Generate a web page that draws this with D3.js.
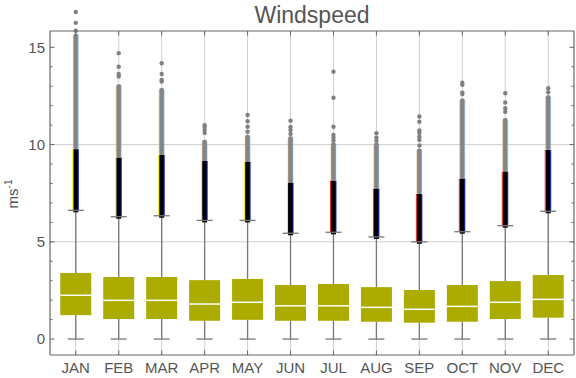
<!DOCTYPE html>
<html><head><meta charset="utf-8">
<script src="https://cdn.jsdelivr.net/npm/d3@7"></script>
<style>html,body{margin:0;padding:0;background:#fff;}svg{display:block;font-family:"Liberation Sans",Arial,Helvetica,sans-serif;}</style>
</head><body>
<svg id="chart" width="576" height="378"></svg>
<script>
const months = ["JAN","FEB","MAR","APR","MAY","JUN","JUL","AUG","SEP","OCT","NOV","DEC"];
const whiskerLow = [0,0,0,0,0,0,0,0,0,0,0,0];
const q1 = [1.23,1.03,1.03,0.94,0.99,0.94,0.94,0.89,0.84,0.89,1.03,1.10];
const median = [2.25,1.99,1.99,1.80,1.89,1.71,1.71,1.63,1.53,1.68,1.89,2.04];
const q3 = [3.40,3.19,3.19,3.03,3.09,2.78,2.83,2.67,2.52,2.78,2.98,3.29];
const whiskerHigh = [6.62,6.29,6.34,6.10,6.10,5.44,5.49,5.25,5.00,5.52,5.83,6.57];
// dense outlier range (overlapping points) : black part and grey part
const denseOutlierTop = [9.76,9.33,9.47,9.16,9.12,8.04,8.14,7.73,7.46,8.25,8.61,9.72];
const outlierBandTop = [15.6,13.0,12.8,10.15,10.4,10.32,10.0,10.0,9.7,12.26,11.27,12.43];
const sparseOutliers = [
  [15.85,16.26,16.82],
  [13.5,13.63,14.0,14.7],
  [13.24,13.32,13.63,14.18],
  [10.6,10.75,10.9,11.0],
  [10.66,10.92,11.2,11.52],
  [10.55,10.75,10.9,11.23],
  [10.2,10.35,10.5,10.92,12.41,13.75],
  [10.2,10.35,10.58],
  [9.95,10.24,10.4,10.6,10.72,11.18,11.44],
  [12.6,12.67,13.07,13.18],
  [11.69,11.87,12.16,12.64],
  [12.69,12.9]
];
const yMajorTicks = [0,5,10,15];
const yGridLines = [5,10];

const svg = d3.select("#chart");
const L=50, R=574, T=31, B=355;
const x = d3.scalePoint().domain(months).range([L,R]).padding(0.6);
const y = d3.scaleLinear().domain([-0.82,15.84]).range([B,T]);
const textCol = "#555", frameCol = "#666";
const boxW = 31, capW = 16, colW = 5;
const edgeLeft = months.map((m,i)=> i<6 ? "#ffee00" : "#e0201a");

const g = svg.append("g");
// grid
g.selectAll(".vg").data(months).join("line")
  .attr("x1",d=>x(d)).attr("x2",d=>x(d)).attr("y1",T).attr("y2",B)
  .attr("stroke","#cfcfcf").attr("stroke-width",1);
g.selectAll(".hg").data(yGridLines).join("line")
  .attr("x1",L).attr("x2",R).attr("y1",d=>y(d)).attr("y2",d=>y(d))
  .attr("stroke","#cfcfcf").attr("stroke-width",1);

const data = months.map((m,i)=>({m,i,lo:whiskerLow[i],q1:q1[i],med:median[i],q3:q3[i],hi:whiskerHigh[i],dt:denseOutlierTop[i],bt:outlierBandTop[i],sp:sparseOutliers[i]}));

// whiskers
g.selectAll(".wl").data(data).join("line")
  .attr("x1",d=>x(d.m)).attr("x2",d=>x(d.m)).attr("y1",d=>y(d.lo)).attr("y2",d=>y(d.q1))
  .attr("stroke","#777").attr("stroke-width",1.3);
g.selectAll(".wh").data(data).join("line")
  .attr("x1",d=>x(d.m)).attr("x2",d=>x(d.m)).attr("y1",d=>y(d.q3)).attr("y2",d=>y(d.hi))
  .attr("stroke","#777").attr("stroke-width",1.3);
// caps
g.selectAll(".cl").data(data).join("line")
  .attr("x1",d=>x(d.m)-capW/2).attr("x2",d=>x(d.m)+capW/2).attr("y1",d=>y(d.lo)).attr("y2",d=>y(d.lo))
  .attr("stroke","#777").attr("stroke-width",1.3);

// grey outlier band
g.selectAll(".gb").data(data).join("rect")
  .attr("x",d=>x(d.m)-colW/2).attr("width",colW)
  .attr("y",d=>y(d.bt)-2).attr("height",d=>y(d.dt)-y(d.bt)+2)
  .attr("rx",2).attr("fill","#858585");
g.selectAll(".gbl").data(data).join("line")
  .attr("x1",d=>x(d.m)-colW/2).attr("x2",d=>x(d.m)-colW/2).attr("y1",d=>y(d.bt)).attr("y2",d=>y(d.dt))
  .attr("stroke","#e8b878").attr("stroke-width",0.8).attr("stroke-opacity",0.7);
g.selectAll(".gbr").data(data).join("line")
  .attr("x1",d=>x(d.m)+colW/2).attr("x2",d=>x(d.m)+colW/2).attr("y1",d=>y(d.bt)).attr("y2",d=>y(d.dt))
  .attr("stroke","#8fd0ff").attr("stroke-width",0.8).attr("stroke-opacity",0.7);
// black dense band
g.selectAll(".bb").data(data).join("rect")
  .attr("x",d=>x(d.m)-colW/2).attr("width",colW)
  .attr("y",d=>y(d.dt)).attr("height",d=>y(d.hi)-y(d.dt)+2)
  .attr("fill","#000");
g.selectAll(".bbl").data(data).join("line")
  .attr("x1",d=>x(d.m)-colW/2-0.5).attr("x2",d=>x(d.m)-colW/2-0.5).attr("y1",d=>y(d.dt)).attr("y2",d=>y(d.hi))
  .attr("stroke",d=>edgeLeft[d.i]).attr("stroke-width",1);
g.selectAll(".bbr").data(data).join("line")
  .attr("x1",d=>x(d.m)+colW/2).attr("x2",d=>x(d.m)+colW/2).attr("y1",d=>y(d.dt)).attr("y2",d=>y(d.hi))
  .attr("stroke","#1020c0").attr("stroke-width",1);
// upper caps
g.selectAll(".ch").data(data).join("line")
  .attr("x1",d=>x(d.m)-capW/2).attr("x2",d=>x(d.m)+capW/2).attr("y1",d=>y(d.hi)).attr("y2",d=>y(d.hi))
  .attr("stroke","#777").attr("stroke-width",1.3);
// sparse outliers
data.forEach(d=>{
  g.selectAll(null).data(d.sp).join("circle")
    .attr("cx",x(d.m)).attr("cy",v=>y(v)).attr("r",2.2).attr("fill","#808080");
});
// boxes
g.selectAll(".box").data(data).join("rect")
  .attr("x",d=>x(d.m)-boxW/2).attr("width",boxW)
  .attr("y",d=>y(d.q3)).attr("height",d=>y(d.q1)-y(d.q3))
  .attr("fill","#abab00");
g.selectAll(".med").data(data).join("line")
  .attr("x1",d=>x(d.m)-boxW/2).attr("x2",d=>x(d.m)+boxW/2).attr("y1",d=>y(d.med)).attr("y2",d=>y(d.med))
  .attr("stroke","#fff").attr("stroke-width",1.5);

// axes frame
const fr = svg.append("g").attr("stroke",frameCol).attr("stroke-width",1.2).attr("fill","none");
fr.append("line").attr("x1",L).attr("x2",L).attr("y1",T).attr("y2",B);
fr.append("line").attr("x1",R).attr("x2",R).attr("y1",T).attr("y2",B);
fr.append("line").attr("x1",L).attr("x2",R).attr("y1",T).attr("y2",T);
fr.append("line").attr("x1",L).attr("x2",R).attr("y1",B).attr("y2",B);

// y ticks
const minor = d3.range(0,16);
const ticks = svg.append("g").attr("stroke",frameCol).attr("stroke-width",1);
ticks.selectAll(".lt").data(minor).join("line")
  .attr("x1",L).attr("x2",d=>L+(yMajorTicks.includes(d)?4.5:2.5)).attr("y1",d=>y(d)).attr("y2",d=>y(d));
ticks.selectAll(".rt").data(minor).join("line")
  .attr("x1",R).attr("x2",d=>R-(yMajorTicks.includes(d)?4.5:2.5)).attr("y1",d=>y(d)).attr("y2",d=>y(d));
ticks.selectAll(".tt").data(months).join("line")
  .attr("x1",d=>x(d)).attr("x2",d=>x(d)).attr("y1",T).attr("y2",T+4.5);
ticks.selectAll(".bt").data(months).join("line")
  .attr("x1",d=>x(d)).attr("x2",d=>x(d)).attr("y1",B).attr("y2",B-4.5);

// labels
svg.append("g").selectAll("text").data(yMajorTicks).join("text")
  .attr("x",L-5).attr("y",d=>y(d)).attr("dy","0.35em").attr("text-anchor","end")
  .attr("font-size",15).attr("fill",textCol).text(d=>d);
svg.append("g").selectAll("text").data(months).join("text")
  .attr("x",d=>x(d)).attr("y",373).attr("text-anchor","middle")
  .attr("font-size",15).attr("fill",textCol).text(d=>d);
svg.append("text").attr("x",(L+R)/2).attr("y",23).attr("text-anchor","middle")
  .attr("font-size",23).attr("fill",textCol).text("Windspeed");
const yl = svg.append("text").attr("transform","translate(18,194) rotate(-90)")
  .attr("text-anchor","middle").attr("font-size",15).attr("fill",textCol);
yl.append("tspan").text("ms");
yl.append("tspan").attr("dy",-6).attr("font-size",10).text("-1");
</script>
</body></html>
